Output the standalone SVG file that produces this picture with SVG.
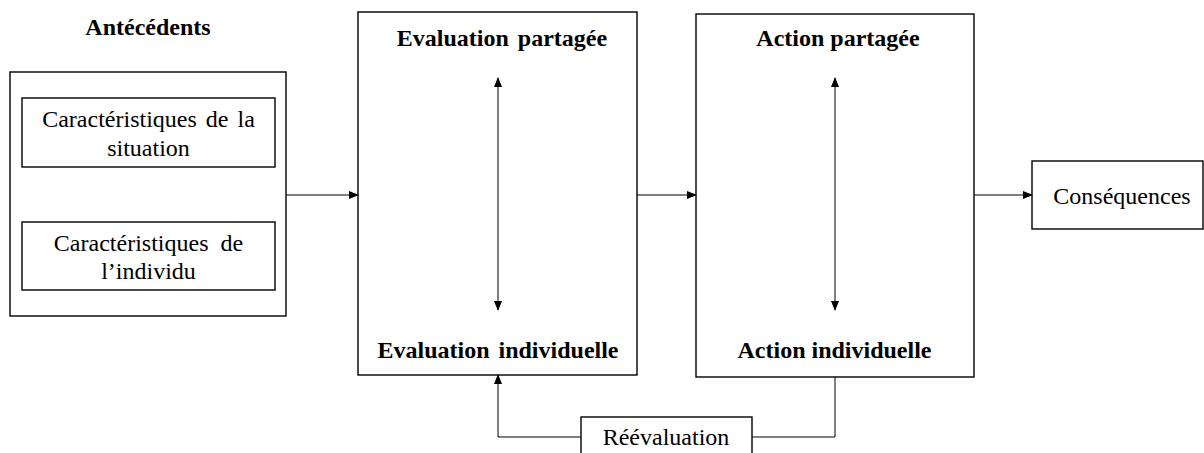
<svg xmlns="http://www.w3.org/2000/svg" width="1204" height="453" viewBox="0 0 1204 453">
<style>
.box{fill:#fff;stroke:#000;stroke-width:1.4}
.t{font-family:"Liberation Serif","Times New Roman",serif;font-size:24px;fill:#000;text-anchor:middle}
.b{font-weight:bold}
.c{fill:none;stroke:#000;stroke-width:1}
</style>
<defs>
<marker id="ah" markerWidth="10" markerHeight="8" refX="9" refY="4" orient="auto-start-reverse" markerUnits="userSpaceOnUse">
<path d="M0,0 L10,4 L0,8 Z" fill="#000"/>
</marker>
</defs>
<rect width="1204" height="453" fill="#fff"/>
<g id="antecedents">
<text class="t b" x="148" y="35">Antécédents</text>
<rect class="box" x="10" y="72" width="276" height="244"/>
</g>
<g id="situation">
<rect class="box" x="22" y="98" width="253" height="69"/>
<text class="t" x="148.5" y="127" word-spacing="3">Caractéristiques de la</text>
<text class="t" x="148.5" y="156">situation</text>
</g>
<g id="individu">
<rect class="box" x="22" y="222" width="253" height="68"/>
<text class="t" x="148.5" y="251" word-spacing="6">Caractéristiques de</text>
<text class="t" x="148.5" y="279">l’individu</text>
</g>
<g id="evaluation">
<rect class="box" x="358" y="12" width="279" height="363"/>
<text class="t b" x="502" y="46" word-spacing="3">Evaluation partagée</text>
<text class="t b" x="498" y="358" word-spacing="3">Evaluation individuelle</text>
</g>
<g id="action">
<rect class="box" x="696" y="14" width="278" height="363"/>
<text class="t b" x="838" y="46">Action partagée</text>
<text class="t b" x="834.5" y="358">Action individuelle</text>
</g>
<g id="consequences">
<rect class="box" x="1032" y="161" width="171" height="68"/>
<text class="t" x="1122" y="204">Conséquences</text>
</g>
<g id="reevaluation">
<rect class="box" x="581" y="417" width="171" height="50"/>
<text class="t" x="666" y="445">Réévaluation</text>
</g>
<g id="connectors">
<line class="c" x1="286" y1="195" x2="358" y2="195" marker-end="url(#ah)"/>
<line class="c" x1="637" y1="195" x2="696" y2="195" marker-end="url(#ah)"/>
<line class="c" x1="974" y1="195" x2="1032" y2="195" marker-end="url(#ah)"/>
<line class="c" x1="498" y1="78" x2="498" y2="310" marker-start="url(#ah)" marker-end="url(#ah)"/>
<line class="c" x1="835" y1="78" x2="835" y2="310" marker-start="url(#ah)" marker-end="url(#ah)"/>
<polyline class="c" points="835,377 835,437 752,437"/>
<polyline class="c" points="581,437 498,437 498,375" marker-end="url(#ah)"/>
</g>
</svg>
